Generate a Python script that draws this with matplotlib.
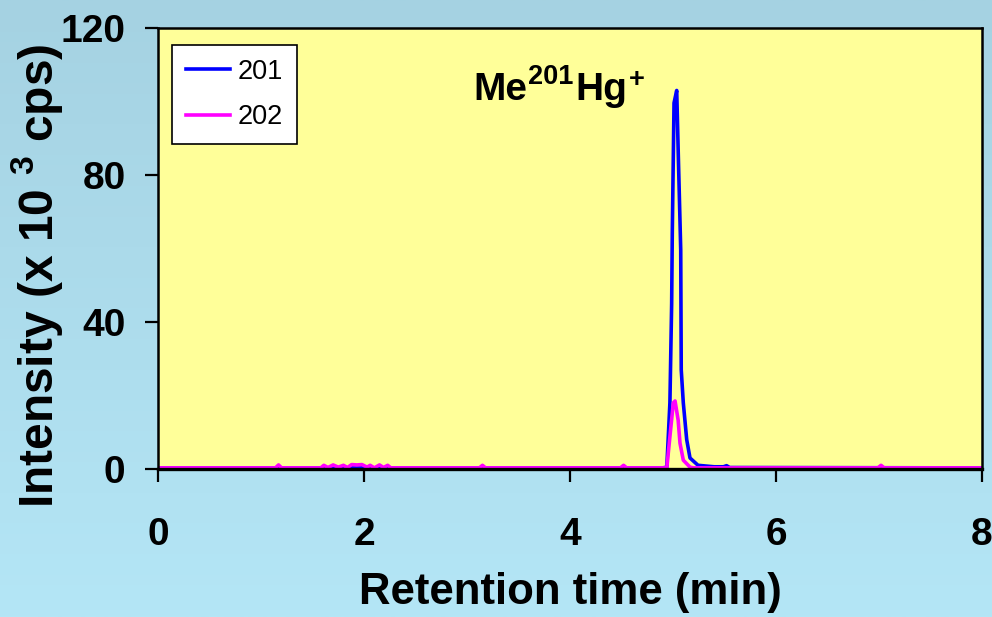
import numpy as np
import matplotlib
matplotlib.use('Agg')
from matplotlib import pyplot as plt

plt.rcParams['font.family'] = ['Liberation Sans', 'DejaVu Sans']
plt.rcParams['mathtext.fontset'] = 'custom'
plt.rcParams['mathtext.rm'] = 'Liberation Sans'
plt.rcParams['mathtext.bf'] = 'Liberation Sans:bold'
plt.rcParams['mathtext.default'] = 'bf'

# retention time (min) / intensity (x 10^3 cps)
t201 = [0.0, 4.90, 4.94, 4.97, 4.987, 4.993, 5.010, 5.036, 5.051, 5.075, 5.080,
        5.100, 5.133, 5.165, 5.243, 5.40, 5.49, 5.52, 5.55, 8.0]
i201 = [0.3, 0.3, 0.5, 18, 45, 64, 99.6, 103, 86, 59.6, 27,
        18, 8, 3, 1, 0.6, 0.6, 0.9, 0.4, 0.3]

t202 = [0.0, 1.14, 1.17, 1.20, 1.58, 1.61, 1.65, 1.70, 1.75, 1.80, 1.84, 1.88,
        1.93, 1.98, 2.03, 2.06, 2.10, 2.15, 2.19, 2.23, 2.26, 3.12, 3.15, 3.18,
        4.49, 4.52, 4.55, 4.94, 4.97, 5.003, 5.020, 5.050, 5.068, 5.100, 5.165,
        5.20, 6.99, 7.02, 7.05, 8.0]
i202 = [0.3, 0.3, 1.1, 0.3, 0.3, 1.0, 0.4, 1.1, 0.5, 1.0, 0.4, 1.2,
        1.1, 1.2, 0.5, 1.0, 0.3, 1.1, 0.4, 1.0, 0.3, 0.3, 1.0, 0.3,
        0.3, 1.0, 0.3, 0.3, 8.8, 18, 18.5, 13.3, 7, 2.4, 0.5,
        0.3, 0.3, 1.0, 0.3, 0.3]

xticks = [0, 2, 4, 6, 8]
yticks = [0, 40, 80, 120]

fig = plt.figure(figsize=(9.92, 6.17), dpi=100)

# light blue gradient behind everything
bg = fig.add_axes([0, 0, 1, 1], zorder=-1)
grad = np.linspace(0, 1, 256).reshape(-1, 1)
top = np.array([165, 210, 226]) / 255
bot = np.array([180, 230, 246]) / 255
img = top + (bot - top) * grad[..., None]
bg.imshow(img, aspect='auto', extent=[0, 1, 0, 1])
bg.axis('off')

ax = fig.add_axes([0.1593, 0.2399, 0.8306, 0.7147])
ax.set_facecolor('#ffff99')

ax.plot(t201, i201, color='#0000ff', lw=2.6, label='201')
ax.plot(t202, i202, color='#ff00ff', lw=2.6, label='202')

ax.set_xlim(0, 8)
ax.set_ylim(0, 120)
ax.set_xticks(xticks)
ax.set_yticks(yticks)
ax.tick_params(axis='x', length=9.4, width=1.6, pad=25, labelsize=28)
ax.tick_params(axis='y', length=9.4, width=1.6, pad=14, labelsize=28)
for lab in ax.get_xticklabels() + ax.get_yticklabels():
    lab.set_fontweight('bold')
for side in ['left', 'top', 'right']:
    ax.spines[side].set_linewidth(1.8)
ax.spines['bottom'].set_linewidth(2.4)

ax.set_xlabel('Retention time (min)', fontsize=31.5, fontweight='bold', va='center')
ax.xaxis.set_label_coords(0.5, -0.281)
ax.set_ylabel('Intensity (x 10 $^{3}$ cps)', fontsize=34.5, fontweight='bold',
              va='center', ha='center')
ax.yaxis.set_label_coords(-0.1465, 0.4376)

# peak label, built from pieces so the superscripts can be sized freely
t1 = ax.text(3.058, 100.4, 'Me', fontsize=28, fontweight='bold',
             ha='left', va='baseline')
t2 = ax.annotate('201', xy=(1, 0), xycoords=t1, xytext=(0.5, 13),
                 textcoords='offset points', fontsize=19.5, fontweight='bold',
                 ha='left', va='bottom')
t3 = ax.annotate('Hg', xy=(1, 0), xycoords=(t2, t1), xytext=(2, 0),
                 textcoords='offset points', fontsize=28, fontweight='bold',
                 ha='left', va='bottom')
t4 = ax.annotate('+', xy=(1, 0), xycoords=(t3, t2), xytext=(1, -2),
                 textcoords='offset points', fontsize=19.5, fontweight='bold',
                 ha='left', va='bottom')

leg = ax.legend(loc='upper left', bbox_to_anchor=(0.017, 0.961), fontsize=19.5,
                frameon=True, fancybox=False, edgecolor='black', framealpha=1,
                handlelength=1.63, handletextpad=0.3, borderpad=0.5,
                labelspacing=0.72, borderaxespad=0)
leg.get_frame().set_linewidth(1.2)

fig.savefig('out.png', dpi=100)
